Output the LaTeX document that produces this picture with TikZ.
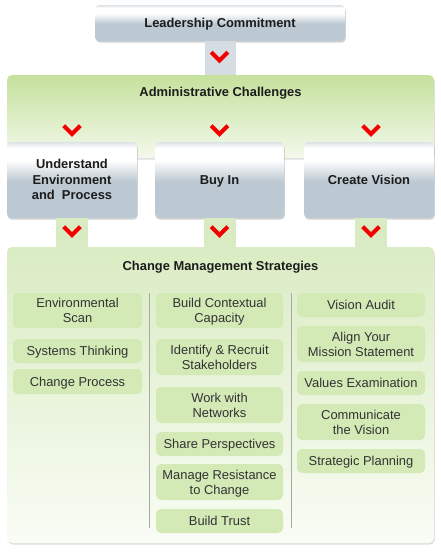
\documentclass[tikz,border=0pt]{standalone}
\usepackage{fontspec}
\setmainfont{Liberation Sans}
\usetikzlibrary{shadows}
\definecolor{boxgrey}{HTML}{BCC9D2}
\definecolor{boxtop}{HTML}{DCE2E6}
\definecolor{greentop}{HTML}{C5E19C}
\definecolor{greenbot}{HTML}{F3F9EC}
\definecolor{chgtop}{HTML}{DAECC3}
\definecolor{chgbot}{HTML}{F9FCF5}
\definecolor{itemfill}{HTML}{D3E9B6}
\definecolor{stubgreen}{HTML}{D9EBC3}
\definecolor{stubgrey}{HTML}{D5DDE3}
\definecolor{chevred}{HTML}{F20000}
\definecolor{sepgrey}{HTML}{A8A8A8}
\definecolor{txt}{HTML}{1C1C1C}
\pgfdeclareverticalshading{greybox}{100bp}{color(0bp)=(boxgrey); color(25bp)=(boxgrey); color(49bp)=(boxgrey); color(63bp)=(white); color(71bp)=(white); color(75bp)=(boxtop); color(100bp)=(boxtop)}
\pgfdeclareverticalshading{adminshade}{100bp}{color(0bp)=(greenbot); color(25bp)=(greenbot); color(75bp)=(greentop); color(100bp)=(greentop)}
\pgfdeclareverticalshading{chgshade}{100bp}{color(0bp)=(chgbot); color(25bp)=(chgbot); color(75bp)=(chgtop); color(100bp)=(chgtop)}
\tikzset{
  boxfont/.style={font=\fontsize{12.9}{15.5}\selectfont\bfseries, text=txt, text depth=0.8pt},
  itemfont/.style={font=\fontsize{12.9}{15}\selectfont, text=txt!90, text depth=0pt},
  greyboxstyle/.style={shading=greybox, rounded corners=4pt, inner sep=0pt, align=center, boxfont,
     drop shadow={opacity=0.35, shadow xshift=0.8pt, shadow yshift=-1.6pt}},
  panel/.style={rounded corners=5pt, inner sep=0pt,
     drop shadow={opacity=0.25, shadow xshift=0.8pt, shadow yshift=-1.6pt}},
  itembox/.style={fill=itemfill, rounded corners=5pt, inner sep=0pt, align=center, itemfont},
  stubg/.style={fill=stubgreen},
  stubgr/.style={fill=stubgrey},
  chev/.pic={\draw[chevred, line width=4.2pt, miter limit=4] (-8.3,-4.3) -- (0,4) -- (8.3,-4.3);},
  sepline/.style={draw=sepgrey, line width=0.8pt}
}
\begin{document}
\begin{tikzpicture}[x=1pt,y=-1pt]
\useasboundingbox (0,0) rectangle (440,552);
% panels
\node[panel, shading=adminshade, minimum width=427pt, minimum height=83pt] (admin) at (220.5,116.5) {};
\node[panel, shading=chgshade, minimum width=427pt, minimum height=296pt] (chg) at (220.5,395) {};
% leadership and its stub to the admin panel
\node[greyboxstyle, minimum width=250pt, minimum height=36pt] (lead) at (220,23) {Leadership Commitment};
\fill[stubgr] ([xshift=-15.5pt]lead.south) rectangle ([xshift=15.5pt]lead.south |- admin.north);
\node[boxfont] (admintitle) at (220.5,92) {Administrative Challenges};
% three boxes
\node[greyboxstyle, minimum width=130pt, minimum height=76pt] (env) at (72,180) {Understand\\Environment\\and\ \ Process};
\node[greyboxstyle, minimum width=129pt, minimum height=76pt] (buy) at (219.5,180) {Buy In};
\node[greyboxstyle, minimum width=130pt, minimum height=76pt] (vis) at (369,180) {Create Vision};
% stubs to change box
\fill[stubg] ([xshift=-16pt]env.south) rectangle ([xshift=16pt]env.south |- chg.north);
\fill[stubg] ([xshift=-16pt]buy.south) rectangle ([xshift=16pt]buy.south |- chg.north);
\fill[stubg] ([xshift=-14pt]vis.south) rectangle ([xshift=18pt]vis.south |- chg.north);
% chevrons
\pic at (219.5,56.5) {chev};
\pic at (72,130) {chev};
\pic at (219.5,130) {chev};
\pic at (371,130) {chev};
\pic at (72,231) {chev};
\pic at (219.5,231) {chev};
\pic at (371,231) {chev};
\node[boxfont] (chgtitle) at (220.5,266) {Change Management Strategies};
% separators
\draw[sepline] (149,293) -- (149,528);
\draw[sepline] (291,293) -- (291,528);
% left column
\node[itembox, minimum width=129pt, minimum height=35pt] (l1) at (77.5,310.5) {Environmental\\Scan};
\node[itembox, minimum width=129pt, minimum height=24pt] (l2) at (77.5,351) {Systems Thinking};
\node[itembox, minimum width=129pt, minimum height=25pt] (l3) at (77.5,381.5) {Change Process};
% middle column
\node[itembox, minimum width=127pt, minimum height=35pt] (m1) at (219.5,310.5) {Build Contextual\\Capacity};
\node[itembox, minimum width=127pt, minimum height=36pt] (m2) at (219.5,357) {Identify \& Recruit\\Stakeholders};
\node[itembox, minimum width=127pt, minimum height=36pt] (m3) at (219.5,405) {Work with\\Networks};
\node[itembox, minimum width=127pt, minimum height=24pt] (m4) at (219.5,444) {Share Perspectives};
\node[itembox, minimum width=127pt, minimum height=36pt] (m5) at (219.5,482) {Manage Resistance\\to Change};
\node[itembox, minimum width=127pt, minimum height=24pt] (m6) at (219.5,521) {Build Trust};
% right column
\node[itembox, minimum width=128pt, minimum height=24pt] (r1) at (361,305) {Vision Audit};
\node[itembox, minimum width=128pt, minimum height=36pt] (r2) at (361,344) {Align Your\\Mission Statement};
\node[itembox, minimum width=128pt, minimum height=24pt] (r3) at (361,383) {Values Examination};
\node[itembox, minimum width=128pt, minimum height=36pt] (r4) at (361,422) {Communicate\\the Vision};
\node[itembox, minimum width=128pt, minimum height=24pt] (r5) at (361,461) {Strategic Planning};
\end{tikzpicture}
\end{document}
